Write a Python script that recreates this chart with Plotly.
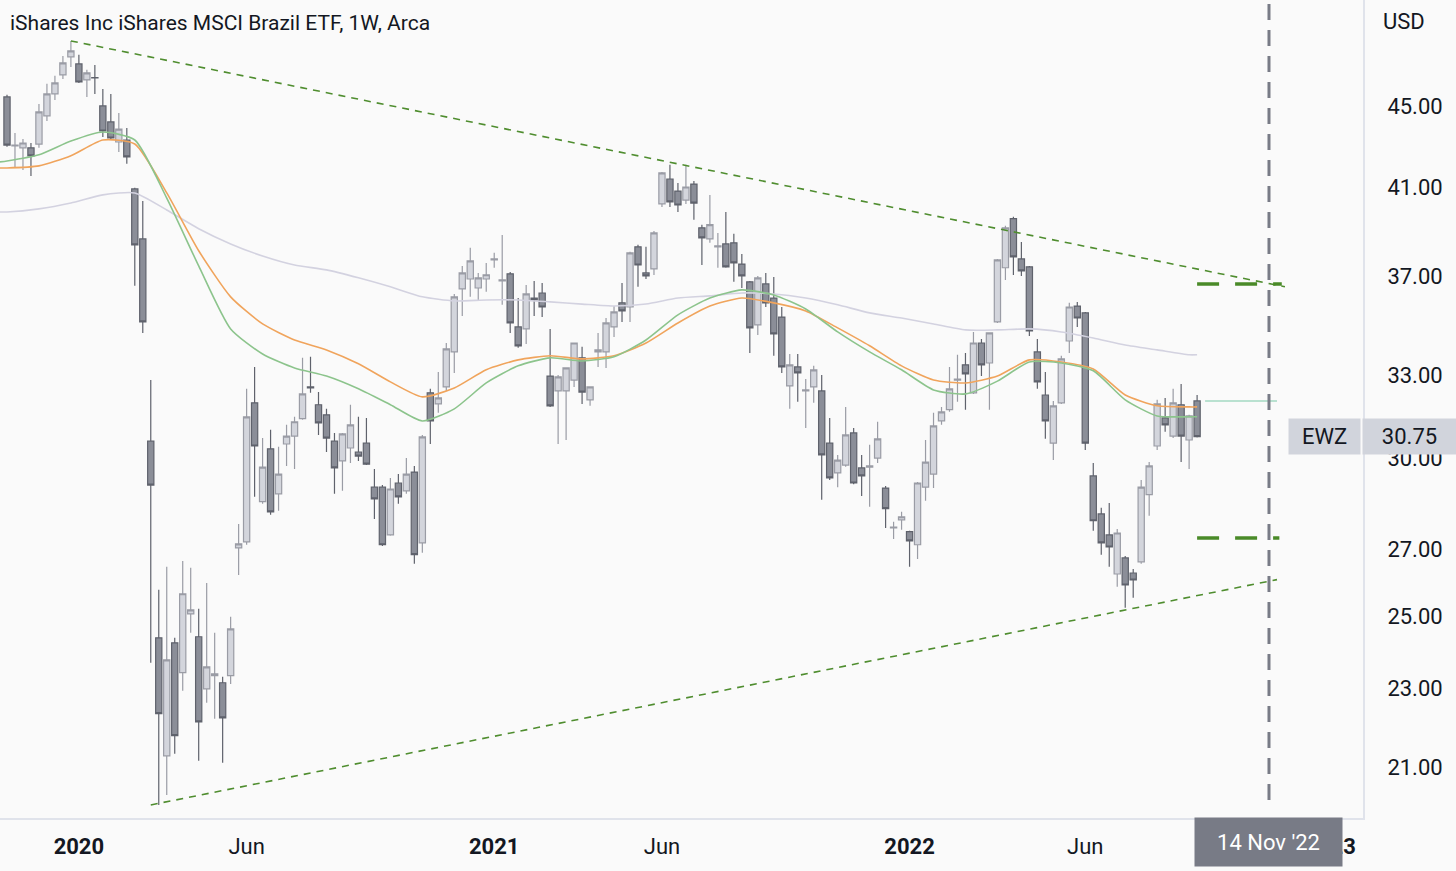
import numpy as np
import pandas as pd
import plotly.graph_objects as go

# ---------------- data (weekly EWZ candles) ----------------
first_week = "2019-11-04"

opens = [45.47, 42.98, 42.88, 42.88, 43.07, 44.49, 45.63, 46.64, 47.62, 47.23,
         46.37, 46.50, 45.00, 44.18, 43.17, 43.27, 40.90, 38.61, 30.59, 24.39,
         21.29, 24.25, 23.43, 25.07, 24.42, 23.00, 23.35, 23.16, 23.35, 27.05,
         27.24, 31.97, 28.53, 30.32, 28.79, 30.49, 30.77, 31.39, 32.56, 31.90,
         31.53, 30.59, 29.90, 30.35, 30.21, 30.52, 29.01, 29.01, 27.46, 29.15,
         28.89, 29.52, 27.21, 32.34, 31.93, 32.56, 33.90, 36.45, 36.87, 36.49,
         36.87, 37.69, 36.79, 37.09, 34.89, 34.81, 36.07, 36.28, 32.97, 32.41,
         32.41, 32.82, 33.67, 32.08, 33.90, 33.90, 34.89, 35.87, 35.70, 38.26,
         37.13, 37.30, 40.20, 41.37, 40.80, 40.38, 41.13, 39.11, 38.61, 38.26,
         38.39, 38.44, 37.51, 36.75, 34.97, 36.66, 36.07, 35.29, 32.60, 33.32,
         32.41, 32.56, 32.41, 30.52, 29.49, 29.76, 30.88, 29.66, 29.69, 30.00,
         28.98, 27.68, 27.94, 27.56, 27.15, 29.01, 29.45, 31.31, 31.72, 32.82,
         33.40, 32.34, 34.25, 33.47, 35.09, 37.35, 39.52, 37.73, 37.39, 33.90,
         32.26, 30.52, 31.97, 34.33, 35.74, 35.46, 29.39, 28.13, 27.46, 26.25,
         26.74, 26.28, 26.62, 28.76, 30.42, 31.42, 30.77, 31.90, 30.63, 32.04]

highs = [45.58, 43.62, 43.32, 43.12, 45.10, 46.16, 46.59, 47.67, 48.50, 47.73,
         46.91, 47.18, 45.89, 45.63, 44.64, 43.87, 40.95, 40.33, 32.82, 25.78,
         26.47, 24.39, 26.65, 26.44, 25.22, 25.98, 24.53, 23.32, 24.99, 27.81,
         32.49, 33.32, 30.70, 30.99, 30.39, 31.17, 31.46, 33.67, 33.71, 32.37,
         31.75, 30.88, 30.88, 31.90, 31.46, 31.42, 29.62, 29.08, 29.32, 29.45,
         30.00, 29.73, 30.81, 32.49, 33.13, 34.25, 36.24, 37.43, 38.22, 37.13,
         37.56, 38.00, 38.79, 37.17, 36.07, 36.62, 36.79, 36.70, 34.81, 33.01,
         33.30, 34.27, 34.10, 32.58, 34.65, 35.25, 35.74, 36.70, 38.04, 38.35,
         38.26, 38.97, 41.71, 42.05, 41.18, 42.05, 41.27, 39.25, 40.62, 38.88,
         39.83, 38.84, 37.95, 36.79, 37.00, 37.13, 36.96, 35.70, 33.82, 33.82,
         32.86, 33.36, 33.01, 31.42, 30.11, 31.82, 31.06, 30.11, 30.46, 31.28,
         29.05, 27.88, 28.20, 27.59, 29.18, 30.63, 31.61, 31.82, 33.32, 33.79,
         33.86, 34.69, 34.41, 34.67, 37.73, 39.20, 39.61, 38.48, 37.43, 34.41,
         33.13, 32.04, 33.75, 35.87, 35.91, 35.50, 29.83, 28.33, 28.49, 27.65,
         26.80, 26.40, 29.25, 29.86, 32.08, 32.15, 32.49, 32.67, 31.53, 32.26]

lows = [42.93, 41.95, 41.80, 41.51, 42.88, 44.23, 45.31, 46.42, 47.07, 46.21,
        45.47, 45.63, 43.42, 43.32, 42.68, 42.10, 36.58, 34.65, 23.70, 20.12,
        20.35, 21.34, 22.95, 24.53, 21.17, 22.63, 22.22, 21.12, 23.13, 26.22,
        27.15, 28.69, 28.46, 28.10, 28.23, 29.73, 29.62, 31.35, 32.34, 30.81,
        30.21, 28.79, 28.89, 29.83, 29.90, 29.76, 27.97, 27.11, 27.43, 28.46,
        28.79, 26.56, 26.90, 30.49, 31.61, 32.41, 33.09, 35.33, 36.12, 35.99,
        36.33, 37.35, 35.79, 34.65, 34.06, 34.21, 35.33, 35.29, 31.82, 30.49,
        30.63, 32.56, 31.93, 31.86, 33.32, 33.28, 34.49, 35.09, 35.09, 36.54,
        36.87, 37.04, 40.06, 40.06, 39.83, 40.20, 39.47, 37.47, 38.44, 37.35,
        37.35, 36.75, 36.49, 33.86, 34.57, 35.70, 33.75, 33.09, 31.75, 32.01,
        31.06, 31.97, 28.59, 29.25, 29.01, 29.70, 29.11, 28.72, 28.36, 29.83,
        27.68, 27.33, 27.62, 26.47, 26.71, 28.56, 28.98, 31.17, 31.64, 32.01,
        31.72, 32.30, 32.97, 31.72, 35.05, 36.83, 37.04, 37.00, 34.53, 32.49,
        30.67, 29.93, 31.93, 33.86, 34.89, 30.28, 27.59, 26.84, 26.47, 25.87,
        25.25, 25.54, 26.56, 28.07, 30.28, 30.92, 30.70, 29.86, 29.62, 30.72]

closes = [43.02, 43.02, 43.12, 42.49, 44.69, 45.63, 46.21, 47.29, 47.95, 46.26,
          46.75, 46.48, 43.72, 43.37, 43.82, 42.44, 38.35, 35.09, 29.08, 22.35,
          23.78, 21.79, 25.66, 25.19, 22.14, 23.59, 23.40, 22.24, 24.64, 27.18,
          31.46, 30.42, 29.69, 28.20, 29.45, 30.77, 31.28, 32.30, 32.52, 31.24,
          30.70, 29.66, 30.85, 31.17, 30.07, 29.79, 28.62, 27.15, 28.95, 28.69,
          29.45, 26.84, 30.74, 31.31, 32.15, 34.02, 36.12, 37.13, 37.65, 36.92,
          37.05, 37.73, 36.83, 35.05, 34.14, 36.24, 35.99, 35.70, 31.86, 32.94,
          33.28, 34.25, 32.37, 32.56, 33.98, 35.05, 35.50, 35.54, 38.00, 37.47,
          37.00, 38.88, 41.66, 40.29, 40.15, 40.99, 40.24, 38.66, 39.25, 38.31,
          37.39, 37.56, 37.00, 34.85, 36.92, 35.87, 34.61, 33.32, 33.40, 33.09,
          32.45, 33.21, 30.11, 29.32, 29.93, 30.81, 29.15, 29.39, 29.73, 30.67,
          28.30, 27.71, 28.04, 27.27, 29.15, 29.86, 31.13, 31.64, 32.49, 32.86,
          33.05, 34.25, 33.40, 34.65, 37.69, 39.11, 37.82, 37.22, 34.73, 32.75,
          31.31, 31.86, 33.63, 35.70, 35.25, 30.52, 27.91, 27.21, 27.08, 27.52,
          25.92, 26.07, 29.01, 29.73, 31.93, 31.17, 31.97, 30.77, 31.49, 30.75]

# moving averages at these week numbers (0 = first candle)
ma_weeks = [-1, 0] + list(range(4, 149, 4)) + [149]
ma_fast = [42.19, 42.24, 42.54, 43.22, 43.67, 43.27, 40.47, 37.43, 34.81, 33.82,
           33.28, 32.97, 32.49, 31.90, 31.31, 31.75, 32.71, 33.36, 33.67, 33.55,
           33.71, 34.37, 35.38, 36.07, 36.41, 36.20, 35.62, 34.69, 33.90, 33.21,
           32.45, 32.30, 32.78, 33.51, 33.47, 33.17, 32.08, 31.49, 31.46, 31.46]
ma_mid = [41.90, 41.90, 42.00, 42.49, 43.27, 43.07, 40.71, 38.09, 36.12, 35.01,
          34.37, 33.98, 33.44, 32.75, 32.19, 32.52, 33.21, 33.59, 33.75, 33.63,
          33.75, 34.25, 35.05, 35.74, 36.07, 35.87, 35.54, 34.85, 34.14, 33.36,
          32.82, 32.71, 32.97, 33.59, 33.51, 33.24, 32.26, 31.86, 31.82, 31.82]
ma_slow = [39.83, 39.83, 39.97, 40.24, 40.62, 40.71, 39.92, 39.07, 38.39, 37.86,
           37.47, 37.26, 36.92, 36.54, 36.12, 35.95, 35.99, 35.99, 35.91, 35.82,
           35.74, 35.82, 36.07, 36.16, 36.28, 36.24, 36.07, 35.79, 35.46, 35.25,
           35.01, 34.77, 34.77, 34.81, 34.69, 34.45, 34.17, 33.98, 33.79, 33.79]

# drawings
upper_trend_weeks = [8, 160]
upper_trend_prices = [48.50, 36.54]
lower_trend_weeks = [18, 159]
lower_trend_prices = [20.12, 26.08]
resistance_weeks = [149, 159.6]
resistance_price = 36.66
support_weeks = [149, 159.3]
support_price = 27.36
ref_line_weeks = [150, 159]
ref_line_price = 32.04
marker_date = "2022-11-14"

x_tick_dates = ["2020-01-06", "2020-06-01", "2021-01-04", "2021-05-31",
                "2022-01-03", "2022-06-06", "2023-01-07"]
x_tick_text = ["<b>2020</b>", "Jun", "<b>2021</b>", "Jun", "<b>2022</b>", "Jun", "<b>2023</b>"]
y_tick_vals = [21, 23, 25, 27, 30, 33, 37, 41, 45]

# ---------------- helpers ----------------
t0 = pd.Timestamp(first_week)


def wk(i):
    return t0 + pd.Timedelta(days=7 * i)


dates = [wk(i) for i in range(len(opens))]
FONT = "Roboto, 'Open Sans', sans-serif"
TXT = "#131722"
BG = "#fafafa"

fig = go.Figure()

fig.add_trace(go.Scatter(x=[wk(i) for i in ma_weeks], y=ma_slow, mode="lines",
                         line=dict(color="#d3d2e0", width=1.6, shape="spline", smoothing=0.6),
                         hoverinfo="skip", showlegend=False))
fig.add_trace(go.Scatter(x=[wk(i) for i in ma_weeks], y=ma_mid, mode="lines",
                         line=dict(color="#f0a45c", width=1.6, shape="spline", smoothing=0.6),
                         hoverinfo="skip", showlegend=False))
fig.add_trace(go.Scatter(x=[wk(i) for i in ma_weeks], y=ma_fast, mode="lines",
                         line=dict(color="#8cc48c", width=1.6, shape="spline", smoothing=0.6),
                         hoverinfo="skip", showlegend=False))

fig.add_trace(go.Candlestick(
    x=dates, open=opens, high=highs, low=lows, close=closes,
    increasing=dict(fillcolor="#d3d5dc", line=dict(color="#9a9ca5", width=1.2)),
    decreasing=dict(fillcolor="#8b8e98", line=dict(color="#5f626c", width=1.2)),
    whiskerwidth=0, showlegend=False, hoverinfo="skip"))

# trend lines
fig.add_trace(go.Scatter(x=[wk(i) for i in upper_trend_weeks], y=upper_trend_prices, mode="lines",
                         line=dict(color="#4f8d2f", width=1.6, dash="7px,6px"),
                         hoverinfo="skip", showlegend=False))
fig.add_trace(go.Scatter(x=[wk(i) for i in lower_trend_weeks], y=lower_trend_prices, mode="lines",
                         line=dict(color="#4f8d2f", width=1.6, dash="7px,6px"),
                         hoverinfo="skip", showlegend=False))
fig.add_trace(go.Scatter(x=[wk(i) for i in resistance_weeks], y=[resistance_price] * 2, mode="lines",
                         line=dict(color="#4a8a28", width=3.5, dash="22px,16px"),
                         hoverinfo="skip", showlegend=False))
fig.add_trace(go.Scatter(x=[wk(i) for i in support_weeks], y=[support_price] * 2, mode="lines",
                         line=dict(color="#4a8a28", width=3.5, dash="22px,16px"),
                         hoverinfo="skip", showlegend=False))
fig.add_trace(go.Scatter(x=[wk(i) for i in ref_line_weeks], y=[ref_line_price] * 2, mode="lines",
                         line=dict(color="#a3d8c2", width=1.6),
                         hoverinfo="skip", showlegend=False))

# vertical dashed marker line
fig.add_shape(type="line", xref="x", yref="paper", x0=marker_date, x1=marker_date,
              y0=0.022, y1=1.0, line=dict(color="#787b86", width=3, dash="16px,10px"),
              layer="above")

# plot geometry
W, H = 1456, 871
L, R, T, B = 0, 93, 0, 53
PW, PH = W - L - R, H - T - B
x_lo = t0 - pd.Timedelta(days=0.876 * 7)
x_hi = t0 + pd.Timedelta(days=169.77 * 7)
y_lo, y_hi = 19.82, 50.84

fig.update_layout(
    width=W, height=H, autosize=False,
    margin=dict(l=L, r=R, t=T, b=B, pad=0),
    paper_bgcolor=BG, plot_bgcolor=BG,
    font=dict(family=FONT, color=TXT),
    boxgap=0.22, boxgroupgap=0.0,
    showlegend=False,
    xaxis=dict(type="date", range=[x_lo, x_hi], rangeslider=dict(visible=False),
               showgrid=False, zeroline=False, showline=True, linecolor="#e0e3eb", linewidth=2,
               ticks="", tickvals=x_tick_dates, ticktext=x_tick_text,
               tickfont=dict(family=FONT, size=22, color=TXT), ticklabelstandoff=8),
    yaxis=dict(type="log", side="right", range=[np.log10(y_lo), np.log10(y_hi)],
               showgrid=False, zeroline=False, showline=True, linecolor="#e0e3eb", linewidth=2,
               ticks="", tickvals=y_tick_vals, ticktext=[f"{v:.2f}" for v in y_tick_vals],
               tickfont=dict(family=FONT, size=22, color=TXT), ticklabelstandoff=18),
)

last = closes[-1]
fig.add_annotation(text="iShares Inc iShares MSCI Brazil ETF, 1W, Arca", xref="paper", yref="paper",
                   x=8 / PW, y=1 - 23 / PH, xanchor="left", yanchor="middle", showarrow=False,
                   font=dict(family=FONT, size=21, color=TXT))
fig.add_annotation(text="USD", xref="paper", yref="paper", x=1381 / PW, y=1 - 22 / PH,
                   xanchor="left", yanchor="middle", showarrow=False,
                   font=dict(family=FONT, size=22, color=TXT))
fig.add_annotation(text="EWZ", xref="paper", yref="y", x=1324.5 / PW, y=np.log10(last),
                   xanchor="center", yanchor="middle", showarrow=False, width=71, height=35,
                   bgcolor="#d1d4dc", borderpad=0, font=dict(family=FONT, size=22, color=TXT))
fig.add_annotation(text=f"{last:.2f}", xref="paper", yref="y", x=1409.5 / PW, y=np.log10(last),
                   xanchor="center", yanchor="middle", showarrow=False, width=93, height=35,
                   bgcolor="#d1d4dc", borderpad=0, font=dict(family=FONT, size=22, color=TXT))
fig.add_annotation(text="14 Nov '22", xref="x", yref="paper", x=marker_date, y=1 - 842 / PH,
                   xanchor="center", yanchor="middle", showarrow=False, width=147, height=48,
                   bgcolor="#787b86", borderpad=0, font=dict(family=FONT, size=22, color="#ffffff"))

fig.write_html("out.html", config={"displayModeBar": False})
